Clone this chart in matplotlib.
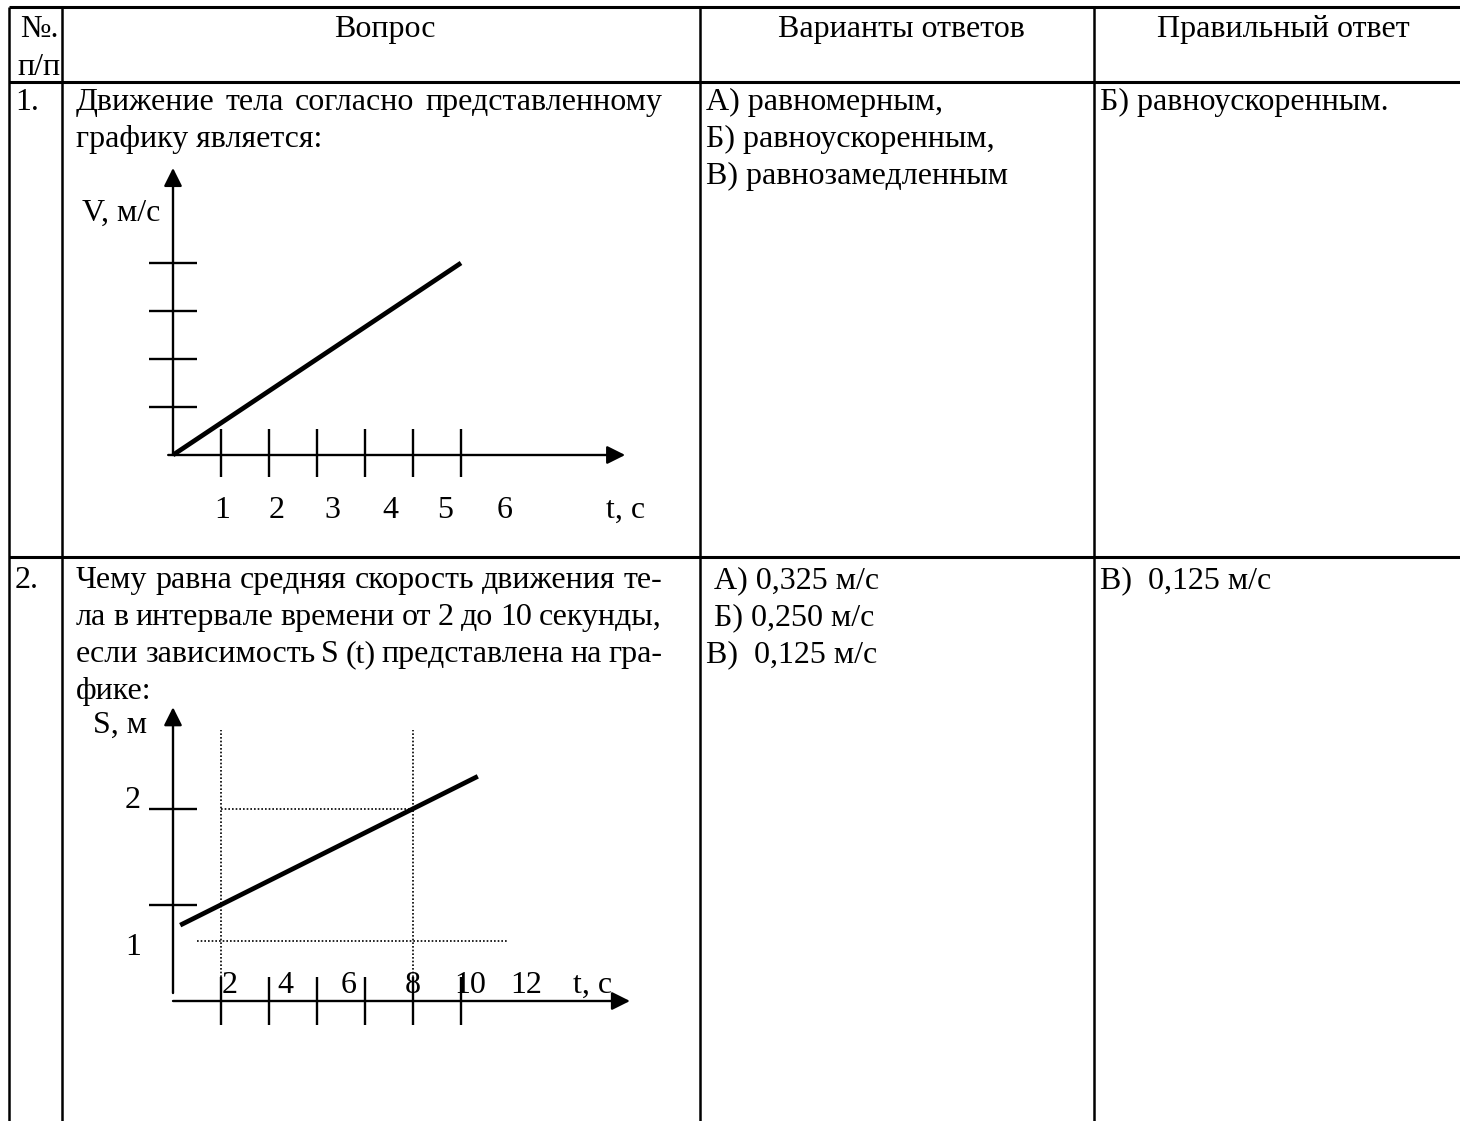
import matplotlib
matplotlib.use("Agg")
import matplotlib.pyplot as plt

W, H, DPI = 1460, 1121, 100
FONT = ["Liberation Serif", "DejaVu Serif"]
FS = 23

# ---------------- data ----------------
header_no = ["№.", "п/п"]
header_cols = ["Вопрос", "Варианты ответов", "Правильный ответ"]
row_numbers = ["1.", "2."]

q1_lines = ["Движение тела согласно представленному", "графику является:"]
q1_options = ["А) равномерным,", "Б) равноускоренным,", "В) равнозамедленным"]
q1_answer = "Б) равноускоренным."

q2_lines = ["Чему равна средняя скорость движения те-",
            "ла в интервале времени от 2 до 10 секунды,",
            "если зависимость S (t) представлена на гра-",
            "фике:"]
q2_options = [" А) 0,325 м/с", " Б) 0,250 м/с", "В)  0,125 м/с"]
q2_answer = "В)  0,125 м/с"

# chart 1: V(t)
g1_t = [0, 6]
g1_v = [0, 4]
g1_xticks = [1, 2, 3, 4, 5, 6]
g1_yticks = [1, 2, 3, 4]
g1_xlabels = ["1", "2", "3", "4", "5", "6"]
g1_xname = "t, с"
g1_yname = "V, м/с"

# chart 2: S(t)
g2_t = [0.3, 12.7]
g2_s = [0.79, 2.34]
g2_xticks = [2, 4, 6, 8, 10, 12]
g2_xlabels = ["2", "4", "6", "8", "10", "12"]
g2_yticks = [1, 2]
g2_ylabels = ["2", "1"]
g2_interval = [2, 10]
g2_level_hi = 2
g2_level_lo = 0.625
g2_xname = "t, с"
g2_yname = "S, м"

# ---------------- layout ----------------
fig = plt.figure(figsize=(W / DPI, H / DPI), dpi=DPI)
page = fig.add_axes([0, 0, 1, 1])
page.set_xlim(0, W)
page.set_ylim(H, 0)
page.set_axis_off()

TOP, HDR, ROW1 = 7, 82, 557
COLS = [9, 62, 700, 1094]
LW_H, LW_V = 2.2, 1.8

for y in (TOP, HDR, ROW1):
    page.plot([COLS[0], W], [y, y], color="black", lw=LW_H, solid_capstyle="butt")
for x in COLS:
    page.plot([x, x], [TOP, H], color="black", lw=LW_V, solid_capstyle="butt")


def txt(x, y, s, ha="left", ax=page, **kw):
    return ax.text(x, y, s, ha=ha, va="baseline", fontsize=FS, family=FONT,
                   color="black", **kw)


renderer = fig.canvas.get_renderer()


def justified(x0, x1, y, s):
    words = s.split(" ")
    widths = []
    for w in words:
        t = txt(0, 0, w)
        widths.append(t.get_window_extent(renderer).width)
        t.remove()
    gap = (x1 - x0 - sum(widths)) / max(len(words) - 1, 1)
    x = x0
    for w, wd in zip(words, widths):
        txt(x, y, w)
        x += wd + gap


LINE = 37
# header
txt(20, 37, header_no[0])
txt(17, 75, header_no[1])
for cx, s in zip([385, 901, 1283], header_cols):
    txt(cx, 37, s, ha="center")

# row 1
TX0, TX1 = 76, 662
txt(15, 110, row_numbers[0])
justified(TX0, TX1, 110, q1_lines[0])
txt(TX0, 110 + LINE, q1_lines[1])
for i, s in enumerate(q1_options):
    txt(706, 110 + i * LINE, s)
txt(1100, 110, q1_answer)

# row 2
B2 = 588
txt(15, B2, row_numbers[1])
for i, s in enumerate(q2_lines):
    if i < len(q2_lines) - 1:
        justified(TX0, TX1, B2 + i * LINE, s)
    else:
        txt(TX0, B2 + i * LINE, s)
for i, s in enumerate(q2_options):
    txt(706, B2 + i * LINE, s)
txt(1100, B2, q2_answer)


def chart_axes(ox, oy, sx, sy, xlim, ylim):
    left = ox + xlim[0] * sx
    right = ox + xlim[1] * sx
    top = oy - ylim[1] * sy
    bottom = oy - ylim[0] * sy
    a = fig.add_axes([left / W, 1 - bottom / H, (right - left) / W, (bottom - top) / H])
    a.set_xlim(*xlim)
    a.set_ylim(*ylim)
    a.set_axis_off()
    return a


ARROW = dict(arrowstyle="-|>,head_length=1.1,head_width=0.55", mutation_scale=10,
             color="black", lw=1.7, shrinkA=0, shrinkB=0)
AX_LW = 1.7

# ---------- chart 1 ----------
a1 = chart_axes(173, 455, 48, 48, (-1.3, 10), (-1.6, 6.3))
a1.annotate("", xy=(0, 5.98), xytext=(0, 0), arrowprops=ARROW, annotation_clip=False)
a1.annotate("", xy=(9.42, 0), xytext=(-0.1, 0), arrowprops=ARROW, annotation_clip=False)
for v in g1_yticks:
    a1.plot([-0.5, 0.5], [v, v], color="black", lw=AX_LW, solid_capstyle="butt", clip_on=False)
for t in g1_xticks:
    a1.plot([t, t], [-0.46, 0.54], color="black", lw=AX_LW, solid_capstyle="butt", clip_on=False)
a1.plot(g1_t, g1_v, color="black", lw=3.4, solid_capstyle="butt", clip_on=False)
g1_label_pos = [1.02, 2.15, 3.33, 4.52, 5.67, 6.9]
for p, s in zip(g1_label_pos, g1_xlabels):
    txt(p, -1.31, s, ha="center", ax=a1)
txt(9.02, -1.31, g1_xname, ax=a1)
txt(-0.27, 4.875, g1_yname, ha="right", ax=a1)

# ---------- chart 2 ----------
a2 = chart_axes(173, 1001, 24, 96, (-3.5, 20), (-0.4, 3.2))
a2.annotate("", xy=(0, 3.06), xytext=(0, 0.083), arrowprops=ARROW, annotation_clip=False)
a2.annotate("", xy=(19.04, 0), xytext=(0, 0), arrowprops=ARROW, annotation_clip=False)
for s in g2_yticks:
    a2.plot([-1, 1], [s, s], color="black", lw=AX_LW, solid_capstyle="butt", clip_on=False)
for t in g2_xticks:
    a2.plot([t, t], [-0.25, 0.25], color="black", lw=AX_LW, solid_capstyle="butt", clip_on=False)
DOT = dict(color="black", lw=1.2, linestyle=(0, (1, 1.2)), clip_on=False)
for t in g2_interval:
    a2.plot([t, t], [0.25, 2.82], **DOT)
a2.plot([g2_interval[0], g2_interval[1]], [g2_level_hi, g2_level_hi], **DOT)
a2.plot([1.0, 13.9], [g2_level_lo, g2_level_lo], **DOT)
a2.plot(g2_t, g2_s, color="black", lw=3.4, solid_capstyle="butt", clip_on=False)
g2_label_pos = [2.375, 4.67, 7.33, 10.0, 12.375, 14.71]
for p, s in zip(g2_label_pos, g2_xlabels):
    txt(p, 0.083, s, ha="center", ax=a2)
txt(16.67, 0.083, g2_xname, ax=a2)
txt(-1.08, 2.79, g2_yname, ha="right", ax=a2)
for yv, s in zip([2.01, 0.48], g2_ylabels):
    txt(-1.67, yv, s, ha="center", ax=a2)

fig.savefig("out.png", dpi=DPI, facecolor="white")
